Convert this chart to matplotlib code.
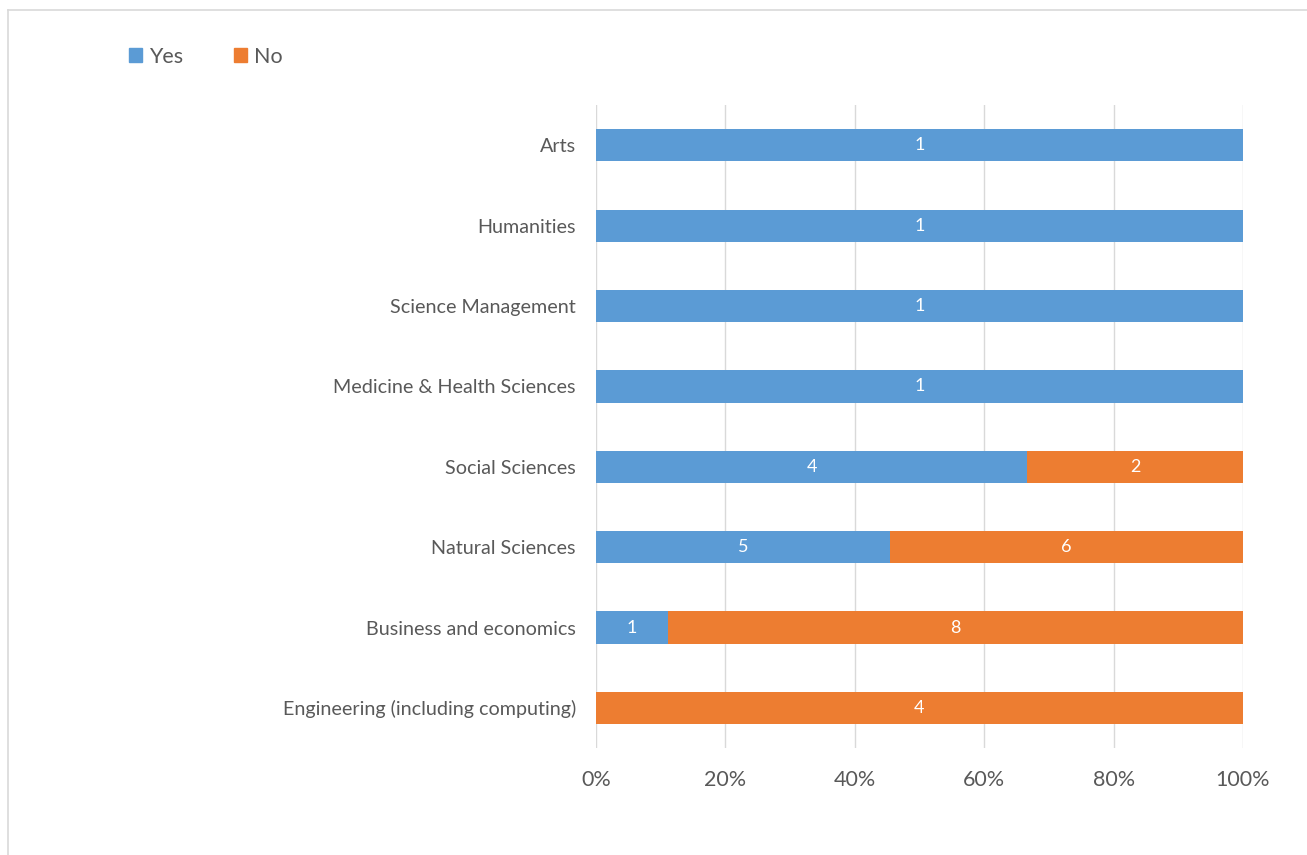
import numpy as np
import matplotlib
matplotlib.use('Agg')
from matplotlib import pyplot as plt
from matplotlib.lines import Line2D
from matplotlib.patches import Patch
from matplotlib.ticker import PercentFormatter

plt.rcParams['font.family'] = ['Lato', 'DejaVu Sans']

# top to bottom as shown on the chart
fields = ['Arts', 'Humanities', 'Science Management', 'Medicine & Health Sciences',
          'Social Sciences', 'Natural Sciences', 'Business and economics',
          'Engineering (including computing)']
yes = [1, 1, 1, 1, 4, 5, 1, 0]
no = [0, 0, 0, 0, 2, 6, 8, 4]

blue = '#5B9BD5'
orange = '#ED7D31'
grey = '#595959'

yes_a = np.array(yes, dtype=float)
no_a = np.array(no, dtype=float)
total = yes_a + no_a
yes_pct = yes_a / total * 100
no_pct = no_a / total * 100

fig = plt.figure(figsize=(13.07, 8.55), dpi=100)
ax = fig.add_axes([0.456, 0.125, 0.495, 0.752])

ypos = np.arange(len(fields))
h = 0.4
b1 = ax.barh(ypos, yes_pct, height=h, color=blue, zorder=3)
b2 = ax.barh(ypos, no_pct, left=yes_pct, height=h, color=orange, zorder=3)

# count labels in the middle of each segment
for bars, vals in ((b1, yes), (b2, no)):
    for rect, v in zip(bars, vals):
        if v == 0:
            continue
        cx = rect.get_x() + rect.get_width() / 2
        cy = rect.get_y() + rect.get_height() / 2
        ax.text(cx, cy, str(v), ha='center', va='center', color='white',
                fontsize=13, zorder=4)

ax.set_xlim(0, 100)
ax.set_ylim(len(fields) - 0.5, -0.5)
ax.set_yticks(ypos)
ax.set_yticklabels(fields, fontsize=14.2, color=grey)
ax.set_xticks(np.arange(0, 101, 20))
ax.xaxis.set_major_formatter(PercentFormatter(decimals=0))
ax.tick_params(axis='x', labelsize=15.5, labelcolor=grey, length=0, pad=16)
ax.tick_params(axis='y', length=0, pad=14.5)
ax.grid(axis='x', color='#D9D9D9', linewidth=1, zorder=0)
for s in ax.spines.values():
    s.set_visible(False)

handles = [Patch(color=blue, label='Yes'), Patch(color=orange, label='No')]
fig.legend(handles=handles, loc='upper left', bbox_to_anchor=(0.084, 0.968),
           ncol=2, frameon=False, fontsize=15.5, labelcolor=grey,
           handlelength=0.6, handleheight=0.6, handletextpad=0.3,
           columnspacing=2.4)

# thin frame lines along the top and left edge
fig.add_artist(Line2D([0.006, 1.0], [0.988, 0.988], color='#D9D9D9', lw=1.2,
                      transform=fig.transFigure))
fig.add_artist(Line2D([0.006, 0.006], [0.0, 0.988], color='#D9D9D9', lw=1.2,
                      transform=fig.transFigure))

fig.savefig('out.png', dpi=100)
